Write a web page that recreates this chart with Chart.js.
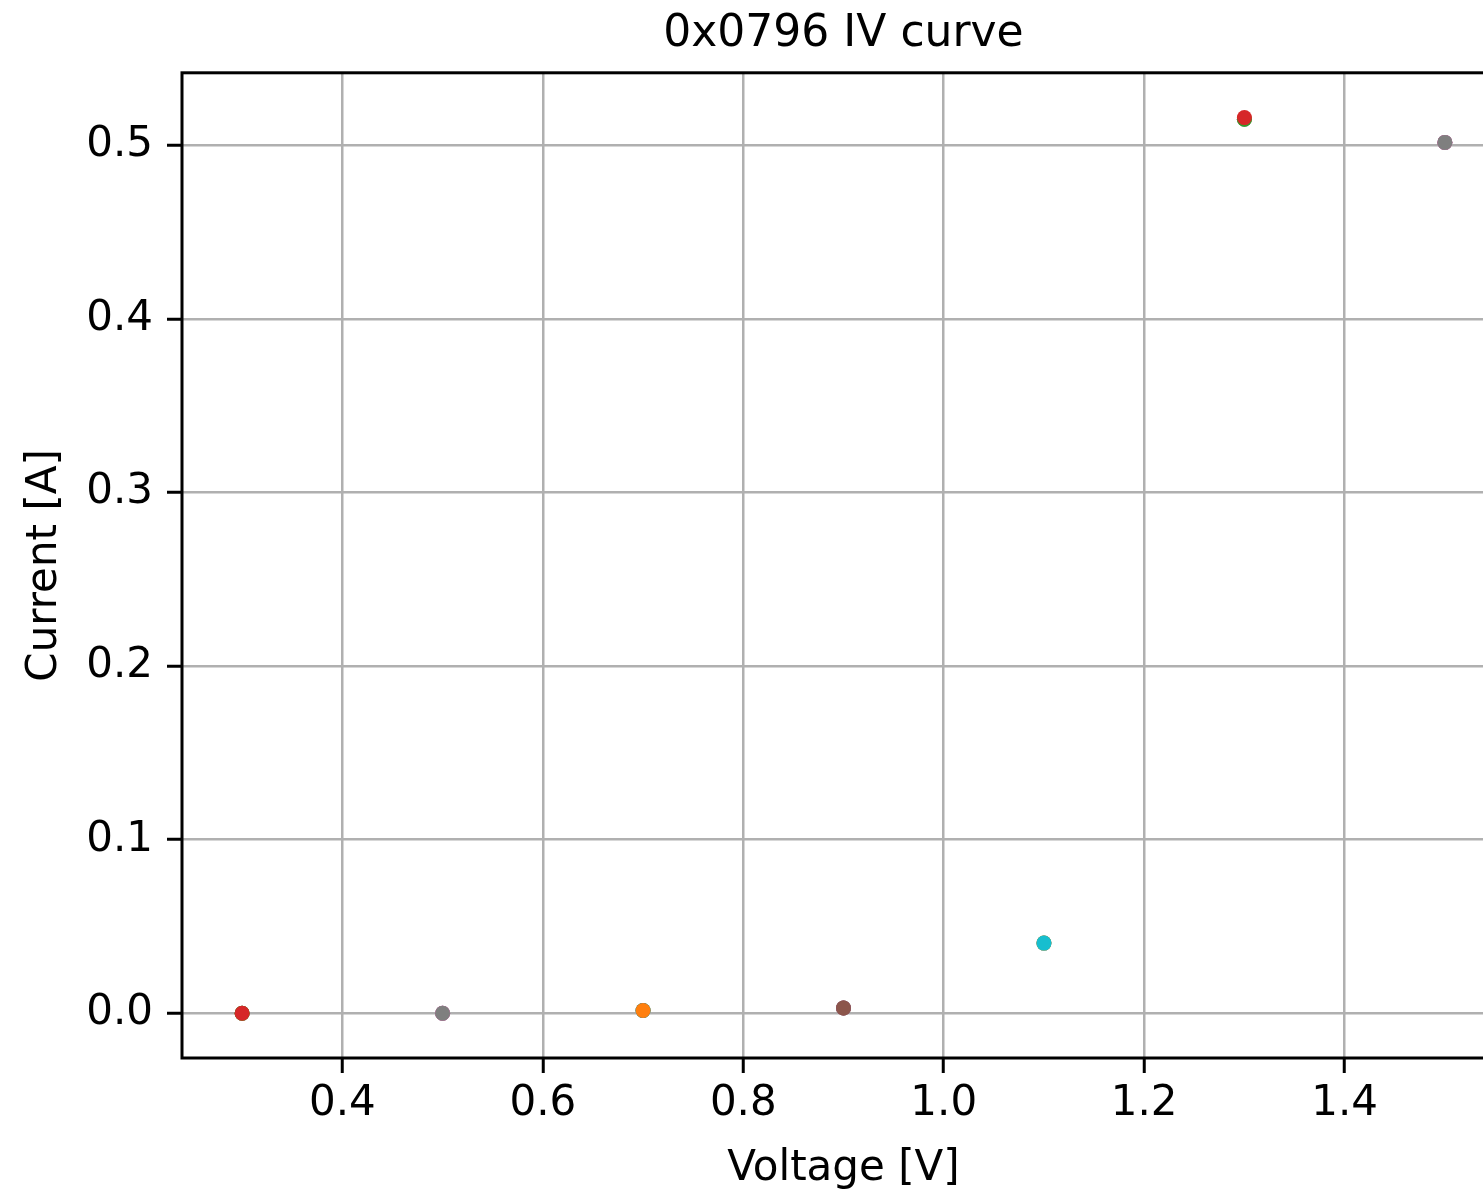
<!DOCTYPE html>
<html>
<head>
<meta charset="utf-8">
<script src="https://cdn.jsdelivr.net/npm/chart.js@4"></script>
<style>
  html, body { margin: 0; padding: 0; background: #fff; overflow: hidden; width: 1483px; height: 1191px; }
  #wrap { position: absolute; left: 0; top: 0; width: 1530px; height: 1191px; }
</style>
</head>
<body>
<div id="wrap"><canvas id="c"></canvas></div>
<script>
// Data
const voltages = [0.3, 0.5, 0.7, 0.9, 1.1, 1.3, 1.5];
const run1 = [0.0000, 0.0000, 0.0016, 0.0030, 0.0404, 0.5150, 0.5017];
const run2 = [0.0000, 0.0000, 0.0016, 0.0030, 0.0404, 0.5152, 0.5017];
const run3 = [0.0000, 0.0000, 0.0016, 0.0030, 0.0404, 0.5150, 0.5017];
const run4 = [0.0000, 0.0000, 0.0016, 0.0030, 0.0404, 0.5160, 0.5017];
const runs = [run1, run2, run3, run4];
const xTicks = [0.4, 0.6, 0.8, 1.0, 1.2, 1.4];
const yTicks = [0.0, 0.1, 0.2, 0.3, 0.4, 0.5];
const palette = ['#1f77b4','#ff7f0e','#2ca02c','#d62728','#9467bd','#8c564b','#e377c2','#7f7f7f','#bcbd22','#17becf'];

const datasets = [];
voltages.forEach((v, i) => {
  runs.forEach((r, j) => {
    const k = i * runs.length + j;
    const col = palette[k % palette.length];
    datasets.push({
      label: 'V' + v + '_' + j,
      data: [{ x: v, y: r[i] }],
      backgroundColor: col,
      borderColor: col,
      borderWidth: 0,
      pointRadius: 7.5,
      order: -k
    });
  });
});

const FONT = 'DejaVu Sans';
const frame = {
  id: 'frame',
  afterDraw(chart) {
    const a = chart.chartArea, ctx = chart.ctx;
    ctx.save();
    ctx.strokeStyle = '#000';
    ctx.lineWidth = 3;
    ctx.strokeRect(a.left, a.top, a.right - a.left, a.bottom - a.top);
    ctx.restore();
  }
};

new Chart(document.getElementById('c'), {
  type: 'scatter',
  data: { datasets },
  options: {
    responsive: true,
    maintainAspectRatio: false,
    animation: false,
    devicePixelRatio: 1,
    layout: { padding: { left: 0, right: 25, top: 0, bottom: 0 } },
    plugins: {
      legend: { display: false },
      tooltip: { enabled: false },
      title: {
        display: true,
        fullSize: false,
        text: '0x0796 IV curve',
        color: '#000',
        font: { family: FONT, size: 44, weight: 'normal' },
        padding: { top: 8, bottom: 12 }
      }
    },
    scales: {
      x: {
        type: 'linear',
        min: 0.24,
        max: 1.56,
        afterBuildTicks: s => { s.ticks = xTicks.map(v => ({ value: v })); },
        afterFit: s => { s.height = 133; },
        grid: { color: '#b0b0b0', lineWidth: 2.5, tickColor: '#000', tickLength: 15, tickWidth: 3 },
        border: { display: false },
        ticks: { color: '#000', font: { family: FONT, size: 42 }, padding: 6, maxRotation: 0,
                 callback: v => Number(v).toFixed(1) },
        title: { display: true, text: 'Voltage [V]', color: '#000', font: { family: FONT, size: 42 }, padding: { top: 0, bottom: -3 } }
      },
      y: {
        type: 'linear',
        min: -0.0258,
        max: 0.5418,
        afterBuildTicks: s => { s.ticks = yTicks.map(v => ({ value: v })); },
        afterFit: s => { s.width = 182; },
        grid: { color: '#b0b0b0', lineWidth: 2.5, tickColor: '#000', tickLength: 15, tickWidth: 3 },
        border: { display: false },
        ticks: { color: '#000', font: { family: FONT, size: 42 }, padding: 14,
                 callback: v => Number(v).toFixed(1) },
        title: { display: true, text: 'Current [A]', color: '#000', font: { family: FONT, size: 42 }, padding: { top: 20, bottom: 0 } }
      }
    }
  },
  plugins: [frame]
});
</script>
</body>
</html>
